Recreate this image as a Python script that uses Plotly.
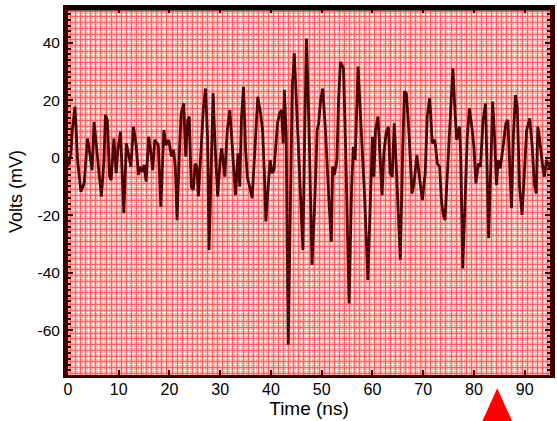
import plotly.graph_objects as go

# ---- data ----
time_ns = [
    0.0, 0.59, 0.85, 1.37, 1.89, 2.54, 3.19, 3.84, 4.3, 4.75, 5.14, 5.8, 6.58, 7.1, 7.36, 7.75,
    8.2, 8.5, 9.05, 9.5, 9.83, 10.35, 10.6, 11.0, 11.5, 11.9, 12.4, 12.9, 13.4, 13.9, 14.3,
    14.7, 15.0, 15.4, 15.9, 16.2, 16.7, 17.1, 17.8, 18.3, 18.9,
    19.3, 19.85, 20.4, 20.8, 21.15, 21.5, 21.9, 22.3, 22.8, 23.2, 23.6, 23.9, 24.3, 24.7,
    25.05, 25.4, 25.7, 26.2, 26.7, 27.1, 27.5, 27.8, 28.2, 28.6, 29.0, 29.5, 30.0, 30.3,
    30.9, 31.4, 31.9, 32.4, 33.0, 33.5, 33.85, 34.2, 34.6, 35.0, 35.35, 35.8, 36.3, 36.8,
    37.4, 37.95,
    38.35, 38.7, 39.0, 39.5, 39.85, 40.2, 40.6, 41.3, 41.7, 42.1, 42.4, 42.65, 43.0, 43.4,
    43.9, 44.2, 44.6, 45.0, 45.65, 46.3, 46.7, 47.0, 47.5, 47.8, 48.1, 48.65, 49.1, 49.4,
    49.8, 50.2, 50.7, 51.4, 51.9, 52.15, 52.5, 53.0, 53.3, 53.7, 54.3, 54.75, 55.4, 55.9,
    56.25, 56.6,
    57.17, 57.8, 58.5, 59.1, 59.6, 60.0, 60.3, 60.6, 61.1, 61.5, 61.9, 62.25, 62.7, 63.15,
    63.5, 63.9, 64.3, 64.65, 65.2, 65.5, 65.95, 66.3, 66.7, 67.25, 67.8, 68.2, 68.75, 69.1,
    69.5, 69.85, 70.4, 70.8, 71.3, 71.8, 72.3, 72.8, 73.25, 73.6, 73.9, 74.3, 74.7, 75.4,
    75.85,
    76.3, 76.6, 77.15, 77.4, 77.8, 78.3, 78.7, 79.1, 79.6, 80.0, 80.4, 80.9, 81.3, 81.8,
    82.3, 82.6, 82.9, 83.3, 83.7, 84.1, 84.45, 84.8, 85.2, 85.75, 86.3, 86.7, 87.05, 87.4,
    87.8, 88.2, 88.55, 89.0, 89.5, 90.0, 90.4, 91.0, 91.5, 91.9, 92.3, 92.6, 92.9, 93.6,
    93.9, 94.3, 95.0,
]
volts_mv = [
    -3.0, 1.5, 9.6, 17.8, -0.8, -11.8, -8.9, 6.7, 1.5, -4.3, 12.5, -0.8, -13.5, -0.8, 14.9, 13.1,
    -6.6, -7.8, 6.7, -5.4, 2.7, 9.1, -4.3, -19.3, 5.0, 1.5, -3.1, 10.8, 5.0, -6.0, -3.1,
    -4.9, -2.5, -8.3, 7.3, 3.8, -4.3, 6.2, 4.4, -17.0, 9.6,
    4.4, 6.2, 0.4, 2.7, -3.1, -21.7, -0.8, 15.4, 18.9, 0.4, 13.1, 14.3, -10.1, -11.2,
    -2.0, -3.1, -13.5, 3.8, 17.8, 24.1, 7.3, -32.1, -2.0, 22.4, 3.8, -13.5, -0.8, 3.3,
    -6.6, 9.6, 16.6, 3.8, -13.0, 1.5, -10.1, 14.3, 24.7, 2.7, -6.6, -10.1, -14.1, 1.5,
    21.2, 15.4,
    9.6, -5.4, -22.2, -8.9, -0.8, -5.4, -4.3, 12.0, 15.4, 16.6, 5.0, 23.6, 8.5, -65.1,
    -15.0, 24.7, 36.3, 18.9, -10.1, -32.1, 13.1, 41.5, 10.8, -10.1, -37.3, -15.0, 9.6, 12.0,
    20.1, 24.1, 10.8, -13.9, -29.2, -3.1, -6.0, -0.8, 18.9, 33.4, 31.1, 1.5, -50.7, -10.1,
    3.8, -0.8,
    31.7, 9.6, -15.0, -42.5, -10.1, 7.3, -6.6, 9.6, 14.3, 1.5, -13.0, 1.5, 8.5, 10.8,
    -5.4, -6.6, 12.0, -0.8, -21.7, -35.6, 1.5, 23.0, 22.4, 7.3, -12.4, -8.9, 0.9, -5.4,
    -10.1, -14.7, -5.4, 14.3, 20.7, 5.0, 6.2, -2.0, -3.1, -14.7, -19.3, -21.7, -7.8, 16.6,
    31.1,
    15.4, 6.2, 10.8, 1.5, -38.5, -10.1, 7.3, 17.2, 10.8, 3.8, -8.9, -2.0, -3.1, 13.1,
    18.9, -4.3, -28.0, -4.3, 19.5, 6.2, -9.5, -0.8, -3.7, 3.8, 12.0, 13.1, -4.3, -17.6,
    8.5, 21.8, 17.8, -10.1, -19.9, -0.8, 9.6, 13.7, 3.8, -8.9, -12.4, 10.8, 7.3, -3.7,
    -6.6, -0.8, -4.0,
]
x_ticks = [0, 10, 20, 30, 40, 50, 60, 70, 80, 90]
y_ticks = [-60, -40, -20, 0, 20, 40]
y_tick_text = ["-60", "-40", "-20", "0", "20", "40"]
marker_time = 84.6

X_RANGE = [0, 95]
Y_RANGE = [-75.6, 52.1]

fig = go.Figure()

# invisible trace on the overlay axes that carry the dense red grid
fig.add_trace(go.Scatter(x=[X_RANGE[0]], y=[Y_RANGE[0]], xaxis="x2", yaxis="y2",
                         mode="markers", marker=dict(opacity=0), showlegend=False,
                         hoverinfo="skip"))

fig.add_trace(go.Scatter(x=time_ns, y=volts_mv, mode="lines",
                         line=dict(color="#4e0404", width=2.8),
                         showlegend=False))

font_family = "Liberation Sans, Arial, sans-serif"

fig.update_layout(
    width=557, height=421,
    margin=dict(l=68, r=2, t=8, b=46),
    paper_bgcolor="white",
    plot_bgcolor="#ffa9a9",
    font=dict(family=font_family, size=15, color="black"),
    xaxis=dict(
        range=X_RANGE, tickmode="array", tickvals=x_ticks,
        ticks="inside", ticklen=5, tickwidth=2, tickcolor="#3a0000",
        showgrid=True, gridcolor="#ffe6e6", gridwidth=1,
        minor=dict(dtick=1, showgrid=True, gridcolor="#ffe6e6", gridwidth=1),
        showline=True, linecolor="#3a0000", linewidth=3, mirror="allticks",
        zeroline=False, ticklabelstandoff=-2,
        title=dict(text="Time (ns)", font=dict(size=19), standoff=2),
        tickfont=dict(size=16),
    ),
    yaxis=dict(
        range=Y_RANGE, tickmode="array", tickvals=y_ticks, ticktext=y_tick_text,
        ticks="inside", ticklen=5, tickwidth=2, tickcolor="#3a0000",
        showgrid=True, gridcolor="#ffe6e6", gridwidth=1,
        minor=dict(dtick=2, showgrid=True, gridcolor="#ffe6e6", gridwidth=1,
                   ticks="inside", ticklen=3, tickcolor="#3a0000"),
        showline=True, linecolor="#3a0000", linewidth=5, mirror="allticks",
        zeroline=False,
        title=dict(text="Volts (mV)", font=dict(size=18), standoff=12),
        tickfont=dict(size=15.5),
    ),
    xaxis2=dict(range=X_RANGE, overlaying="x", showgrid=True, gridcolor="#ff6262",
                gridwidth=1, tick0=0.5, dtick=1, showticklabels=False, ticks="",
                zeroline=False, showline=False),
    yaxis2=dict(range=Y_RANGE, overlaying="y", showgrid=True, gridcolor="#ff6262",
                gridwidth=1, tick0=1, dtick=2, showticklabels=False, ticks="",
                zeroline=False, showline=False),
)

# thick black top border
fig.add_shape(type="line", xref="paper", yref="paper", x0=0, x1=1, y0=1, y1=1,
              line=dict(color="black", width=5), layer="above")

# red triangle marker under the time axis
tri_half = 2.95
fig.add_shape(type="path", xref="x", yref="paper",
              path=(f"M {marker_time - tri_half} -0.126 L {marker_time + tri_half} -0.126 "
                    f"L {marker_time} -0.036 Z"),
              fillcolor="#ff0000", line=dict(width=0), layer="above")

fig.write_html("out.html")
